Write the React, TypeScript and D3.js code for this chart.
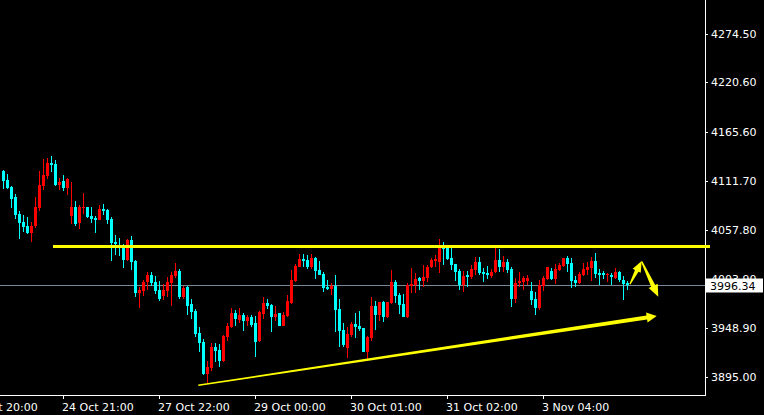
import React from 'react';
import * as d3 from 'd3';

const W = 764;
const H = 415;
const AXIS_X = 705;
const AXIS_Y = 395;

// OHLC per bar (bar 0 = leftmost)
const opens = [
  4122.7, 4112.7, 4105.0, 4094.0, 4075.2, 4066.4, 4062.0, 4054.2, 4062.0, 4081.8,
  4106.1, 4117.2, 4131.5, 4130.4, 4107.2, 4111.6, 4103.9, 4073.0, 4082.9, 4065.3,
  4081.8, 4082.9, 4073.0, 4070.8, 4068.6, 4080.7, 4079.6, 4069.7, 4044.3, 4039.9,
  4039.9, 4024.4, 4046.5, 4023.3, 3988.0, 3990.2, 4000.1, 4007.9, 4000.1, 3991.3,
  3984.7, 3990.2, 3999.0, 4006.8, 4012.3, 3983.6, 3994.6, 3975.8, 3968.1, 3943.8,
  3933.9, 3898.6, 3905.2, 3928.4, 3925.0, 3912.9, 3939.4, 3950.4, 3965.9, 3958.2,
  3963.7, 3957.1, 3961.5, 3954.8, 3935.0, 3964.8, 3976.9, 3974.7, 3961.5, 3965.9,
  3951.5, 3962.6, 3976.9, 4001.2, 4016.7, 4025.5, 4024.4, 4016.7, 4026.6, 4013.4,
  4009.0, 3994.6, 3992.4, 3995.7, 3970.3, 3947.1, 3927.3, 3941.6, 3953.7, 3951.5,
  3949.3, 3922.8, 3938.3, 3973.6, 3963.7, 3978.0, 3961.5, 3976.9, 4000.1, 3985.8,
  3975.8, 3961.5, 3995.7, 3996.8, 4004.6, 4001.2, 4004.6, 4016.7, 4023.3, 4022.2,
  4038.8, 4037.7, 4026.6, 4020.0, 4012.3, 3996.8, 4007.9, 4005.7, 4013.4, 4022.2,
  4011.2, 4010.1, 4006.8, 4011.2, 4024.4, 4016.7, 4022.2, 4014.5, 3981.4, 3999.0,
  4000.1, 4001.2, 3990.2, 3981.4, 3971.4, 3995.7, 4003.5, 4012.3, 4003.5, 4013.4,
  4017.8, 4026.6, 4021.1, 4002.3, 3999.0, 4007.9, 4013.4, 4015.6, 4023.3, 4010.1,
  4010.1, 4007.9, 4007.9, 4004.6, 4011.2, 4002.3, 3999.0,
];
const highs = [
  4123.8, 4119.4, 4106.1, 4097.3, 4078.5, 4074.1, 4071.9, 4066.4, 4094.0, 4122.7,
  4135.9, 4137.0, 4139.2, 4134.8, 4115.0, 4118.3, 4115.0, 4110.5, 4089.6, 4085.1,
  4098.4, 4082.9, 4082.9, 4073.0, 4085.1, 4086.2, 4080.7, 4071.9, 4052.0, 4048.7,
  4042.1, 4047.6, 4050.9, 4024.4, 3994.6, 4002.3, 4011.2, 4011.2, 4006.8, 4001.2,
  3997.9, 4005.7, 4011.2, 4021.1, 4014.5, 3995.7, 3995.7, 3981.4, 3970.3, 3950.4,
  3937.2, 3912.9, 3932.8, 3932.8, 3931.7, 3941.6, 3954.8, 3971.4, 3969.2, 3971.4,
  3965.9, 3963.7, 3963.7, 3962.6, 3968.1, 3983.6, 3981.4, 3975.8, 3973.6, 3965.9,
  3967.0, 3985.8, 4013.4, 4020.0, 4031.0, 4031.0, 4029.9, 4031.0, 4027.7, 4023.3,
  4011.2, 4002.3, 3999.0, 4007.9, 3981.4, 3954.8, 3950.4, 3956.0, 3965.9, 3968.1,
  3949.3, 3940.5, 3983.6, 3979.1, 3978.0, 3979.1, 3978.0, 4013.4, 4002.3, 3988.0,
  3986.9, 3999.0, 4015.6, 4010.1, 4005.7, 4018.9, 4018.9, 4026.6, 4029.9, 4047.6,
  4044.3, 4038.8, 4037.7, 4020.0, 4014.5, 4012.3, 4012.3, 4018.9, 4027.7, 4027.7,
  4015.6, 4017.8, 4014.5, 4037.7, 4036.6, 4028.8, 4025.5, 4016.7, 4004.6, 4011.2,
  4006.8, 4007.9, 4000.1, 3989.1, 4002.3, 4006.8, 4016.7, 4015.6, 4020.0, 4021.1,
  4026.6, 4028.8, 4026.6, 4006.8, 4011.2, 4021.1, 4022.2, 4027.7, 4032.1, 4014.5,
  4012.3, 4010.1, 4010.1, 4015.6, 4012.3, 4006.8, 4001.2,
];
const lows = [
  4102.8, 4102.8, 4081.8, 4069.7, 4047.6, 4055.3, 4053.1, 4044.3, 4059.8, 4078.5,
  4101.7, 4113.9, 4121.6, 4106.1, 4101.7, 4100.6, 4096.2, 4064.2, 4062.0, 4058.7,
  4075.2, 4070.8, 4065.3, 4054.2, 4068.6, 4074.1, 4064.2, 4023.3, 4029.9, 4028.8,
  4015.6, 4023.3, 4013.4, 3983.6, 3971.4, 3984.7, 3991.3, 3995.7, 3986.9, 3979.1,
  3980.2, 3983.6, 3973.6, 4004.6, 3981.4, 3981.4, 3963.7, 3959.3, 3939.4, 3922.8,
  3897.5, 3887.5, 3901.9, 3911.8, 3906.3, 3911.8, 3935.0, 3949.3, 3951.5, 3954.8,
  3946.0, 3951.5, 3950.4, 3917.3, 3933.9, 3959.3, 3970.3, 3944.9, 3957.1, 3951.5,
  3951.5, 3961.5, 3975.8, 4000.1, 4016.7, 4016.7, 4014.5, 4014.5, 4003.5, 4007.9,
  3989.1, 3991.3, 3985.8, 3944.9, 3928.4, 3928.4, 3916.2, 3939.4, 3938.3, 3946.0,
  3922.8, 3915.1, 3935.0, 3947.1, 3957.1, 3956.0, 3960.4, 3975.8, 3976.9, 3964.8,
  3961.5, 3960.4, 3988.0, 3988.0, 3991.3, 3994.6, 4000.1, 4015.6, 4016.7, 4010.1,
  4018.9, 4024.4, 4013.4, 4001.2, 3991.3, 3989.1, 3994.6, 4003.5, 4007.9, 4007.9,
  4000.1, 4003.5, 4004.6, 4010.1, 4011.2, 4011.2, 4010.1, 3972.5, 3976.9, 3994.6,
  3991.3, 3996.8, 3974.7, 3963.7, 3969.2, 3990.2, 4002.3, 4002.3, 3997.9, 4012.3,
  4016.7, 4011.2, 3993.5, 3994.6, 3997.9, 4006.8, 4007.9, 4001.2, 4004.6, 3996.8,
  4003.5, 4000.1, 3996.8, 4003.5, 4000.1, 3980.2, 3991.3,
];
const closes = [
  4111.6, 4103.9, 4091.8, 4074.1, 4065.3, 4060.9, 4054.2, 4062.0, 4082.9, 4107.2,
  4118.3, 4131.5, 4129.3, 4107.2, 4110.5, 4103.9, 4113.9, 4082.9, 4064.2, 4082.9,
  4082.9, 4071.9, 4069.7, 4068.6, 4080.7, 4078.5, 4068.6, 4043.2, 4042.1, 4038.8,
  4024.4, 4046.5, 4022.2, 3988.0, 3991.3, 4000.1, 4007.9, 3999.0, 3990.2, 3981.4,
  3991.3, 4000.1, 4007.9, 4012.3, 3983.6, 3993.5, 3973.6, 3967.0, 3942.7, 3932.8,
  3898.6, 3906.3, 3928.4, 3923.9, 3912.9, 3940.5, 3951.5, 3965.9, 3959.3, 3963.7,
  3957.1, 3961.5, 3952.6, 3933.9, 3967.0, 3976.9, 3973.6, 3961.5, 3964.8, 3951.5,
  3963.7, 3979.1, 4002.3, 4017.8, 4025.5, 4023.3, 4016.7, 4026.6, 4012.3, 4007.9,
  3993.5, 3992.4, 3995.7, 3969.2, 3946.0, 3930.6, 3942.7, 3953.7, 3950.4, 3948.2,
  3922.8, 3939.4, 3973.6, 3963.7, 3978.0, 3961.5, 3978.0, 4000.1, 3984.7, 3974.7,
  3961.5, 3996.8, 3997.9, 4003.5, 4001.2, 4005.7, 4016.7, 4024.4, 4025.5, 4037.7,
  4036.6, 4025.5, 4018.9, 4011.2, 3996.8, 4006.8, 4005.7, 4014.5, 4022.2, 4010.1,
  4009.0, 4007.9, 4011.2, 4024.4, 4016.7, 4022.2, 4013.4, 3981.4, 3999.0, 4001.2,
  4004.6, 4004.6, 3980.2, 3971.4, 3996.8, 4004.6, 4016.7, 4003.5, 4014.5, 4018.9,
  4026.6, 4020.0, 4001.2, 3999.0, 4009.0, 4014.5, 4016.7, 4023.3, 4009.0, 4007.9,
  4007.9, 4009.0, 4005.7, 4011.2, 4002.3, 3997.9, 3996.34,
];

const priceTicks = [4274.5, 4220.6, 4165.6, 4111.7, 4057.8, 4003.9, 3948.9, 3895.0];
const timeLabels = ['23 Oct 20:00', '24 Oct 21:00', '27 Oct 22:00', '29 Oct 00:00', '30 Oct 01:00', '31 Oct 02:00', '3 Nov 04:00'];
const timeBars = [-9, 15, 39, 63, 87, 111, 135];
const lastPrice = 3996.34;

// hand-drawn objects, as [bar, price]
const resistanceLevel = 4040;
const resistanceBars = [12.4, 176.6];
const trendLine = [[48.7, 3886.0], [163.3, 3962.6]];
const upArrow = [[156.6, 3997.6], [159.55, 4023.3]];
const downArrow = [[159.55, 4022.7], [163.7, 3983.9]];

const x = d3.scaleLinear().domain([0, 1]).range([3.5, 7.5]);
const y = d3.scaleLinear().domain([3895, 4274.5]).range([377.2, 33.5]);

function arrowPoints(p1: number[], p2: number[], w0: number, w1: number, hl: number, hw: number) {
  const x1 = x(p1[0]), y1 = y(p1[1]), x2 = x(p2[0]), y2 = y(p2[1]);
  const dx = x2 - x1, dy = y2 - y1, L = Math.hypot(dx, dy);
  const ux = dx / L, uy = dy / L, nx = -uy, ny = ux;
  const bx = x2 - ux * hl, by = y2 - uy * hl;
  const pts = [
    [x1 + nx * w0 / 2, y1 + ny * w0 / 2],
    [bx + nx * w1 / 2, by + ny * w1 / 2],
    [bx + nx * hw / 2, by + ny * hw / 2],
    [x2, y2],
    [bx - nx * hw / 2, by - ny * hw / 2],
    [bx - nx * w1 / 2, by - ny * w1 / 2],
    [x1 - nx * w0 / 2, y1 - ny * w0 / 2],
  ];
  return pts.map(p => p.join(',')).join(' ');
}

const font = '"DejaVu Sans", sans-serif';

export default function App() {
  const yLast = Math.round(y(lastPrice)) + 0.5;
  const yRes = Math.round(y(resistanceLevel));
  return (
    <div style={{ position: 'fixed', left: 0, top: 0, width: W, height: H, background: '#000' }}>
      <svg width={W} height={H} style={{ display: 'block' }}>
        <rect width={W} height={H} fill="#000" />
        <defs>
          <clipPath id="plot">
            <rect x={0} y={0} width={AXIS_X} height={AXIS_Y} />
          </clipPath>
        </defs>

        {/* current price line */}
        <line x1={0} x2={AXIS_X} y1={yLast} y2={yLast} stroke="#778899" strokeWidth={1} />

        {/* candles */}
        <g clipPath="url(#plot)" shapeRendering="crispEdges">
          {opens.map((o, i) => {
            const c = closes[i];
            const col = c > o ? '#ff0000' : '#00ffff';
            const cx = Math.floor(x(i));
            const yh = Math.round(y(highs[i]));
            const yl = Math.round(y(lows[i]));
            const yt = Math.round(y(Math.max(o, c)));
            const yb = Math.round(y(Math.min(o, c)));
            return (
              <g key={i} fill={col}>
                <rect x={cx} y={yh} width={1} height={Math.max(1, yl - yh)} />
                <rect x={cx - 1} y={yt} width={3} height={Math.max(1, yb - yt)} />
              </g>
            );
          })}
        </g>

        {/* axes */}
        <g shapeRendering="crispEdges" stroke="#fff">
          <line x1={AXIS_X + 0.5} x2={AXIS_X + 0.5} y1={0} y2={AXIS_Y + 0.5} />
          <line x1={0} x2={AXIS_X + 0.5} y1={AXIS_Y + 0.5} y2={AXIS_Y + 0.5} />
          {priceTicks.map(t => (
            <line key={t} x1={AXIS_X} x2={AXIS_X + 3} y1={Math.round(y(t)) + 0.5} y2={Math.round(y(t)) + 0.5} />
          ))}
          {timeBars.map(b => (
            <line key={b} x1={Math.floor(x(b)) + 0.5} x2={Math.floor(x(b)) + 0.5} y1={AXIS_Y} y2={AXIS_Y + 4} />
          ))}
        </g>
        <g fill="#fff" fontFamily={font} fontSize={11}>
          {priceTicks.map(t => (
            <text key={t} x={711} y={y(t) + 4}>{t.toFixed(2)}</text>
          ))}
          {timeLabels.map((l, i) => (
            <text key={l} x={Math.floor(x(timeBars[i])) - 1} y={411}>{l}</text>
          ))}
        </g>

        {/* drawn objects */}
        <g fill="#ffff00">
          <rect x={x(resistanceBars[0])} y={yRes - 1} width={x(resistanceBars[1]) - x(resistanceBars[0])} height={3} shapeRendering="crispEdges" />
          <polygon points={arrowPoints(trendLine[0], trendLine[1], 1.5, 4, 10, 10)} />
          <polygon points={arrowPoints(upArrow[0], upArrow[1], 1.2, 4, 11, 9)} />
          <polygon points={arrowPoints(downArrow[0], downArrow[1], 1.5, 4.5, 12, 10)} />
        </g>

        {/* last price tag */}
        <rect x={706} y={yLast - 7} width={57} height={14} fill="#fff" />
        <text x={710} y={yLast + 4} fill="#000" fontFamily={font} fontSize={11}>{lastPrice.toFixed(2)}</text>
      </svg>
    </div>
  );
}
